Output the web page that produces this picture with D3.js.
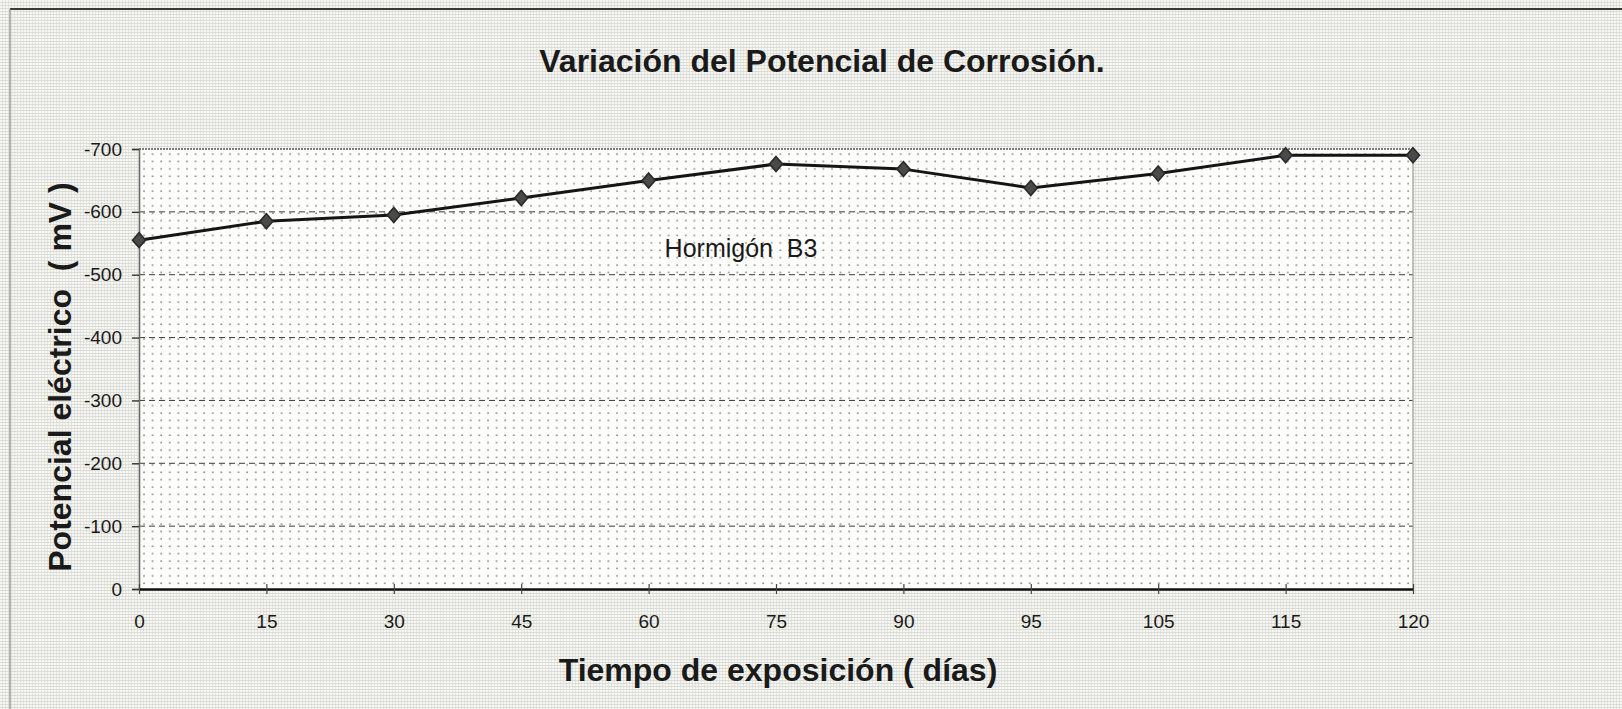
<!DOCTYPE html>
<html>
<head>
<meta charset="utf-8">
<script src="https://cdn.jsdelivr.net/npm/d3@7"></script>
<style>
  html, body { margin: 0; padding: 0; background: #f3f3ef; }
  svg { display: block; }
  text { font-family: "Liberation Sans", Arial, sans-serif; fill: #1a1a1a; }
</style>
</head>
<body>
<svg id="chart" width="1622" height="709"></svg>
<script>
// Exposure time categories (days) and measured corrosion potential (mV)
const dias = ["0", "15", "30", "45", "60", "75", "90", "95", "105", "115", "120"];
const potencial = [-555, -585, -595, -622, -650, -676, -668, -638, -661, -690, -690];
const yTicks = [0, -100, -200, -300, -400, -500, -600, -700];
const yTickLabels = ["0", "-100", "-200", "-300", "-400", "-500", "-600", "-700"];
const tituloGrafico = "Variación del Potencial de Corrosión.";
const tituloX = "Tiempo de exposición ( días)";
const tituloY = "Potencial eléctrico  ( mV )";
const serieNombre = "Hormigón  B3";

const W = 1622, H = 709;
const plot = { left: 139, right: 1413, top: 149, bottom: 589 };

const svg = d3.select("#chart");
const defs = svg.append("defs");

// Fine printed mesh for the sheet background
const mesh = defs.append("pattern").attr("id", "mesh")
  .attr("width", 3).attr("height", 3).attr("patternUnits", "userSpaceOnUse");
mesh.append("rect").attr("width", 3).attr("height", 3).attr("fill", "#f6f6f2");
mesh.append("rect").attr("x", 0).attr("y", 2).attr("width", 3).attr("height", 1).attr("fill", "#cfcfc8").attr("opacity", 0.6);
mesh.append("rect").attr("x", 2).attr("y", 0).attr("width", 1).attr("height", 3).attr("fill", "#d4d4cd").attr("opacity", 0.5);

// Dotted fill for the plotting area
const dots = defs.append("pattern").attr("id", "dots")
  .attr("width", 8.6).attr("height", 7.4).attr("patternUnits", "userSpaceOnUse")
  .attr("x", plot.left + 3).attr("y", plot.top + 3);
dots.append("rect").attr("width", 8.6).attr("height", 7.4).attr("fill", "#fdfdfb");
dots.append("circle").attr("cx", 2).attr("cy", 2).attr("r", 0.95).attr("fill", "#8a8a86");

svg.append("rect").attr("width", W).attr("height", H).attr("fill", "url(#mesh)");

// Sheet frame (top and left edges)
svg.append("line").attr("x1", 10).attr("x2", W).attr("y1", 9).attr("y2", 9)
  .attr("stroke", "#3a3a3a").attr("stroke-width", 2);
svg.append("line").attr("x1", 10).attr("x2", 10).attr("y1", 9).attr("y2", H)
  .attr("stroke", "#8a8a86").attr("stroke-width", 1.2);

const x = d3.scalePoint().domain(dias).range([plot.left, plot.right]).padding(0);
const y = d3.scaleLinear().domain([0, -700]).range([plot.bottom, plot.top]);

// Plot area
svg.append("rect")
  .attr("x", plot.left).attr("y", plot.top)
  .attr("width", plot.right - plot.left).attr("height", plot.bottom - plot.top)
  .attr("fill", "url(#dots)");

// Dashed horizontal gridlines
svg.append("g").selectAll("line")
  .data(yTicks.filter(d => d !== 0 && d !== -700))
  .join("line")
  .attr("x1", plot.left).attr("x2", plot.right)
  .attr("y1", d => y(d)).attr("y2", d => y(d))
  .attr("stroke", "#3a3a3a").attr("stroke-width", 1)
  .attr("stroke-dasharray", "6,4");

// Plot border: top and right
svg.append("line").attr("x1", plot.left).attr("x2", plot.right)
  .attr("y1", y(-700)).attr("y2", y(-700))
  .attr("stroke", "#555").attr("stroke-width", 1.6).attr("stroke-dasharray", "2,1");
svg.append("line").attr("x1", plot.right).attr("x2", plot.right)
  .attr("y1", plot.top).attr("y2", plot.bottom)
  .attr("stroke", "#9a9a96").attr("stroke-width", 1.2);

// Y axis
const yAxis = d3.axisLeft(y)
  .tickValues(yTicks)
  .tickFormat((d, i) => yTickLabels[i])
  .tickSize(7).tickPadding(10);
const gy = svg.append("g").attr("transform", `translate(${plot.left},0)`).call(yAxis);
gy.select(".domain").attr("stroke", "#6a6a6a").attr("stroke-width", 1.6);
gy.selectAll(".tick line").attr("stroke", "#333").attr("stroke-width", 1.4);
gy.selectAll(".tick text").attr("font-size", 19).attr("fill", "#1a1a1a")
  .attr("font-family", "'Liberation Sans', Arial, sans-serif");

// X axis
const xAxis = d3.axisBottom(x).tickSize(0).tickPadding(26);
const gx = svg.append("g").attr("transform", `translate(0,${plot.bottom})`).call(xAxis);
gx.select(".domain").attr("stroke", "#111").attr("stroke-width", 2.4);
gx.selectAll(".tick line").remove();
gx.selectAll(".tick").append("line")
  .attr("y1", -5).attr("y2", 5)
  .attr("stroke", "#444").attr("stroke-width", 1.2);
gx.selectAll(".tick text").attr("font-size", 19).attr("fill", "#1a1a1a")
  .attr("font-family", "'Liberation Sans', Arial, sans-serif");

// Series line
const line = d3.line().x((d, i) => x(dias[i])).y(d => y(d));
svg.append("path").datum(potencial)
  .attr("d", line)
  .attr("fill", "none").attr("stroke", "#151515").attr("stroke-width", 3)
  .attr("stroke-linejoin", "round");

// Diamond markers
svg.append("g").selectAll("path")
  .data(potencial)
  .join("path")
  .attr("transform", (d, i) => `translate(${x(dias[i])},${y(d)})`)
  .attr("d", "M0,-7.5 L6.5,0 L0,7.5 L-6.5,0 Z")
  .attr("fill", "#4a4a4a").attr("stroke", "#2a2a2a").attr("stroke-width", 1.6);

// Series label inside the plot
svg.append("text")
  .attr("x", x("60") + 16).attr("y", y(-528))
  .attr("font-size", 25).text(serieNombre)
  .style("white-space", "pre").attr("xml:space", "preserve");

// Titles
svg.append("text")
  .attr("x", 822).attr("y", 72).attr("text-anchor", "middle")
  .attr("font-size", 32).attr("font-weight", "bold").text(tituloGrafico);

svg.append("text")
  .attr("x", 778).attr("y", 681).attr("text-anchor", "middle")
  .attr("font-size", 32).attr("font-weight", "bold").text(tituloX);

svg.append("text")
  .attr("transform", "translate(71,377) rotate(-90)")
  .attr("text-anchor", "middle")
  .attr("font-size", 32).attr("font-weight", "bold").text(tituloY)
  .style("white-space", "pre");
</script>
</body>
</html>
